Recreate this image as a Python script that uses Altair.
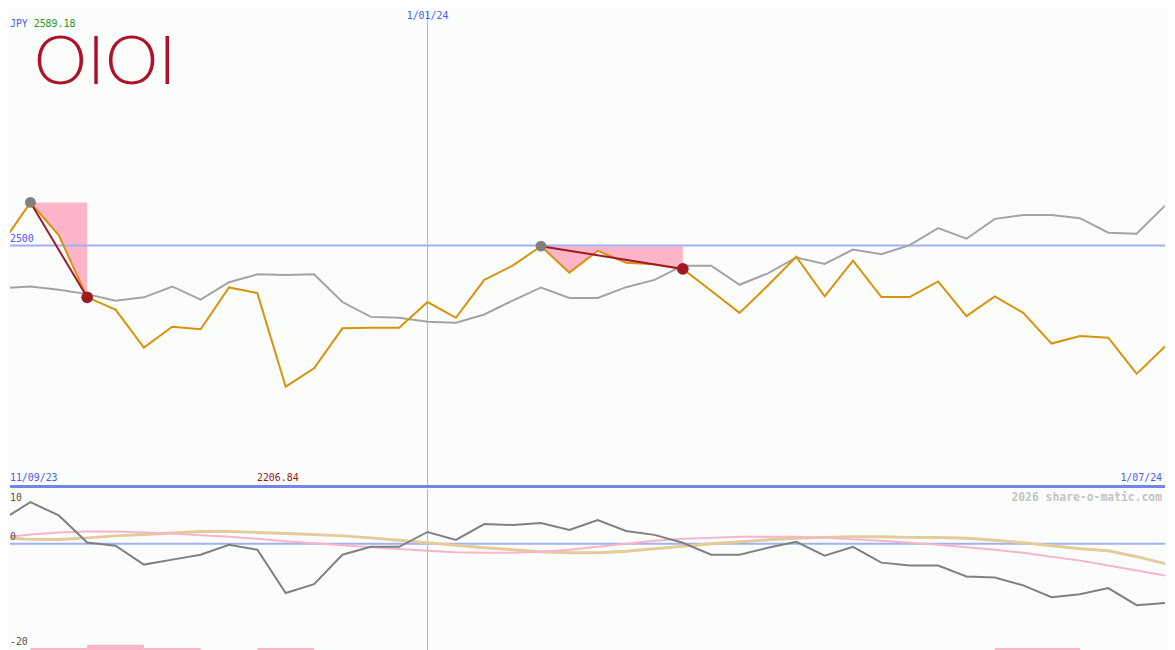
import altair as alt
import pandas as pd

# ---------------- data ----------------
IDX = list(range(42))
CLOSE = [2503.7, 2589.18, 2520.9, 2392.2, 2366.9, 2288.1, 2331.2, 2325.9, 2412.7, 2401.0,
         2206.84, 2245.0, 2327.9, 2329.2, 2329.2, 2382.5, 2349.7, 2428.5, 2457.9, 2498.4,
         2443.5, 2488.7, 2464.1, 2460.6, 2451.1, 2406.0, 2360.0, 2416.8, 2476.4, 2394.3,
         2468.2, 2392.8, 2392.8, 2425.1, 2353.2, 2394.3, 2360.0, 2296.3, 2312.1, 2308.6,
         2233.5, 2290.1]
INDEX_LINE = [2411.3, 2414.8, 2408.0, 2398.9, 2385.4, 2392.2, 2414.8, 2387.5, 2423.6, 2440.0,
              2438.8, 2440.0, 2382.5, 2351.7, 2349.7, 2341.5, 2339.4, 2356.7, 2385.4, 2412.7,
              2390.8, 2390.8, 2413.3, 2428.5, 2457.9, 2457.9, 2418.3, 2442.1, 2474.9, 2461.4,
              2491.4, 2481.9, 2500.4, 2535.9, 2513.9, 2555.0, 2563.2, 2563.2, 2556.5, 2526.3,
              2524.2, 2582.5]
MOM = [4.50, 7.78, 5.31, 0.24, -0.37, -3.89, -2.96, -2.04, -0.19, -1.11,
       -9.20, -7.54, -2.04, -0.56, -0.56, 2.22, 0.74, 3.70, 3.52, 3.89,
       2.59, 4.44, 2.41, 1.67, 0.19, -2.04, -2.04, -0.74, 0.37, -2.22,
       -0.56, -3.52, -4.07, -4.07, -6.11, -6.30, -7.78, -10.0, -9.44, -8.28,
       -11.48, -11.06]
PINK = [1.20, 1.76, 2.13, 2.31, 2.31, 2.13, 1.94, 1.61, 1.30, 0.93,
        0.46, 0.09, -0.28, -0.65, -0.98, -1.30, -1.57, -1.67, -1.67, -1.48,
        -1.11, -0.56, 0.00, 0.56, 0.93, 1.11, 1.30, 1.30, 1.30, 1.11,
        0.83, 0.56, 0.19, -0.19, -0.65, -1.11, -1.67, -2.41, -3.15, -4.07,
        -5.00, -5.93]
TAN = [1.17, 0.83, 0.80, 1.11, 1.48, 1.76, 2.04, 2.31, 2.31, 2.13,
       1.94, 1.76, 1.48, 1.11, 0.65, 0.19, -0.28, -0.74, -1.11, -1.48,
       -1.67, -1.67, -1.39, -0.93, -0.46, 0.00, 0.37, 0.74, 1.02, 1.20,
       1.30, 1.30, 1.20, 1.17, 1.02, 0.65, 0.19, -0.37, -0.93, -1.30,
       -2.41, -3.70]
BAR_START = [1, 3, 5, 9, 35]
BAR_END = [3, 5, 7, 11, 38]
BAR_VAL = [-19.5, -18.9, -19.5, -19.5, -19.5]
SIG_START = [1, 19]
SIG_END = [3, 24]
DATE_LABELS = ["11/09/23", "1/01/24", "1/07/24"]
DATE_POS = [0, 15, 41]
YEAR_MARK = 15
LEVEL = 2500
HI_LABEL = "2589.18"
LO_LABEL = "2206.84"
LO_POS = 10
LOGO = ["O", "I", "O", "I"]
SUB_TICKS = [10, 0, -20]

# ---------------- styling ----------------
W, H1, H2 = 1167, 479, 163
BG = "#fbfdfb"
BLUE_TXT = "#4a5cf0"
FONT = "DejaVu Sans Mono"

df = pd.DataFrame({"i": IDX, "close": CLOSE, "idx": INDEX_LINE,
                   "mom": MOM, "pink": PINK, "tan": TAN})

area_rows, sig_rows, start_rows, end_rows = [], [], [], []
for s, (a, b) in enumerate(zip(SIG_START, SIG_END)):
    for k in range(a, b + 1):
        area_rows.append({"s": s, "i": k, "close": CLOSE[k], "top": CLOSE[a]})
    sig_rows += [{"s": s, "i": a, "close": CLOSE[a]}, {"s": s, "i": b, "close": CLOSE[b]}]
    start_rows.append({"i": a, "close": CLOSE[a]})
    end_rows.append({"i": b, "close": CLOSE[b]})
area_df = pd.DataFrame(area_rows)
sig_df = pd.DataFrame(sig_rows)
start_df = pd.DataFrame(start_rows)
end_df = pd.DataFrame(end_rows)
bars_df = pd.DataFrame({"a": BAR_START, "b": BAR_END, "v": BAR_VAL})

xsc = alt.Scale(domain=[0.279, 41], nice=False, zero=False)
ysc = alt.Scale(domain=[2000, 2983.57], nice=False, zero=False)
bsc = alt.Scale(domain=[-20, 10.185], nice=False, zero=False)

X = alt.X("i:Q", scale=xsc, axis=None)
TY = lambda f: alt.Y(f, scale=ysc, axis=None)

base = alt.Chart(df)

areas = alt.Chart(area_df).mark_area(color="#fab5c9", opacity=1).encode(
    x=X, y=TY("close:Q"), y2="top:Q", detail="s:N")
level = alt.Chart(pd.DataFrame({"v": [LEVEL]})).mark_rule(color="#a4b0f0", strokeWidth=2).encode(
    y=TY("v:Q"))
vline = alt.Chart(pd.DataFrame({"i": [YEAR_MARK]})).mark_rule(color="#aab2dc", strokeWidth=1).encode(x=X)
gray = base.mark_line(color="#a3a3a3", strokeWidth=2, clip=True).encode(x=X, y=TY("idx:Q"))
orange = base.mark_line(color="#d8920c", strokeWidth=2, clip=True).encode(x=X, y=TY("close:Q"))
sig = alt.Chart(sig_df).mark_line(color="#a01828", strokeWidth=2).encode(
    x=X, y=TY("close:Q"), detail="s:N")
p_start = alt.Chart(start_df).mark_point(filled=True, color="#808080", size=120, opacity=1).encode(
    x=X, y=TY("close:Q"))
p_end = alt.Chart(end_df).mark_point(filled=True, color="#a01822", size=140, opacity=1).encode(
    x=X, y=TY("close:Q"))
sep = alt.Chart(pd.DataFrame({"v": [2000]})).mark_rule(color="#7385e8", strokeWidth=3).encode(
    y=TY("v:Q"))

date_df = pd.DataFrame({"i": DATE_POS, "t": DATE_LABELS})
d_first = alt.Chart(date_df.iloc[[0]]).mark_text(font=FONT, fontSize=10, color=BLUE_TXT, align="left",
                                                  baseline="middle", dy=-8).encode(
    x=alt.value(0), y=TY("v:Q"), text="t:N").transform_calculate(v="2000")
d_last = alt.Chart(date_df.iloc[[2]]).mark_text(font=FONT, fontSize=10, color=BLUE_TXT, align="right",
                                                 baseline="middle", dx=-3, dy=-8).encode(
    x=X, y=TY("v:Q"), text="t:N").transform_calculate(v="2000")
d_mid = alt.Chart(date_df.iloc[[1]]).mark_text(font=FONT, fontSize=10, color=BLUE_TXT, align="center",
                                                baseline="middle").encode(
    x=X, y=alt.value(4), text="t:N")
lo_txt = alt.Chart(pd.DataFrame({"i": [LO_POS], "t": [LO_LABEL]})).mark_text(
    font=FONT, fontSize=10, color="#a01818", align="center", baseline="middle", dx=-8, dy=-8).encode(
    x=X, y=TY("v:Q"), text="t:N").transform_calculate(v="2000")
lvl_txt = alt.Chart(pd.DataFrame({"v": [LEVEL], "t": [str(LEVEL)]})).mark_text(
    font=FONT, fontSize=10, color=BLUE_TXT, align="left", baseline="bottom", dy=-1).encode(
    x=alt.value(0), y=TY("v:Q"), text="t:N")
jpy = alt.Chart(pd.DataFrame({"t": ["JPY"]})).mark_text(
    font=FONT, fontSize=10, color=BLUE_TXT, align="left", baseline="middle").encode(
    x=alt.value(0), y=alt.value(12), text="t:N")
hi = alt.Chart(pd.DataFrame({"t": [HI_LABEL]})).mark_text(
    font=FONT, fontSize=10, color="#1f9a1f", align="left", baseline="middle").encode(
    x=alt.value(24), y=alt.value(12), text="t:N")
logo_df = pd.DataFrame({"t": LOGO, "px": [51, 87, 123, 159]})
logo = alt.Chart(logo_df).mark_text(font="Lato", fontSize=68, fontWeight=300, color="#b0102a",
                                    align="center", baseline="middle").encode(
    x=alt.X("px:Q", scale=None, axis=None), y=alt.value(52), text="t:N")

top = alt.layer(areas, level, vline, gray, orange, sig, p_start, p_end, sep,
                d_first, d_last, d_mid, lo_txt, lvl_txt, jpy, hi, logo).properties(width=W, height=H1)

# ---------------- sub panel ----------------
BY = lambda f: alt.Y(f, scale=bsc, axis=None)
zero = alt.Chart(pd.DataFrame({"v": [0]})).mark_rule(color="#a4b0f0", strokeWidth=2).encode(y=BY("v:Q"))
vline2 = alt.Chart(pd.DataFrame({"i": [YEAR_MARK]})).mark_rule(color="#aab2dc", strokeWidth=1).encode(x=X)
bars = alt.Chart(bars_df).mark_rect(color="#fab5c9").encode(
    x=alt.X("a:Q", scale=xsc, axis=None), x2="b:Q", y=BY("v:Q"), y2=alt.datum(-20))
pink = base.mark_line(color="#f8b4c8", strokeWidth=2, clip=True).encode(x=X, y=BY("pink:Q"))
tan = base.mark_line(color="#e3cb9b", strokeWidth=3, clip=True).encode(x=X, y=BY("tan:Q"))
mom = base.mark_line(color="#808080", strokeWidth=2, clip=True).encode(x=X, y=BY("mom:Q"))
tick_df = pd.DataFrame({"v": SUB_TICKS, "t": [str(v) for v in SUB_TICKS], "off": [8, -7, -9]})
ticks = alt.layer(*[
    alt.Chart(tick_df.iloc[[k]]).mark_text(font=FONT, fontSize=10, color="#555555", align="left",
                                           baseline="middle", dy=int(tick_df["off"][k])).encode(
        x=alt.value(0), y=BY("v:Q"), text="t:N")
    for k in range(len(SUB_TICKS))])
wm = alt.Chart(pd.DataFrame({"i": [41], "t": ["2026 share-o-matic.com"]})).mark_text(
    font=FONT, fontSize=11.5, fontWeight="bold", color="#c4c4c4", align="right", baseline="middle",
    dx=-3).encode(x=X, y=alt.value(9), text="t:N")

bottom = alt.layer(zero, vline2, bars, tan, pink, mom, ticks, wm).properties(width=W, height=H2)

chart = alt.vconcat(top, bottom, spacing=0).properties(
    background=BG, padding=0).configure_view(stroke=None).resolve_scale(y="independent")

chart.save("out.html", embed_options={"renderer": "svg", "actions": False})
